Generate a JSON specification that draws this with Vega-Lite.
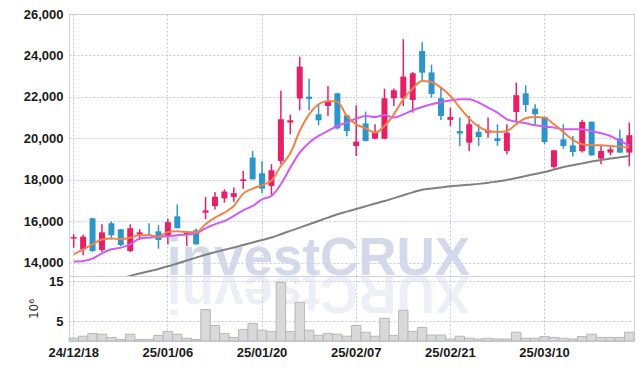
{
  "$schema": "https://vega.github.io/schema/vega-lite/v6.json",
  "background": "white",
  "padding": {"left": 22, "top": 7, "right": 8, "bottom": 8},
  "spacing": 0,
  "bounds": "flush",
  "config": {
    "view": {"stroke": "#cfd0dc"},
    "axis": {
      "labelFont": "Liberation Sans",
      "labelFontWeight": "bold",
      "labelFontSize": 13,
      "labelColor": "#1a1a1a",
      "gridColor": "#c3c6dc",
      "gridDash": [2, 2],
      "domain": false,
      "ticks": false
    }
  },
  "datasets": {
    "p": [
      {"d": "24/12/18", "o": 15160, "h": 15370, "l": 14720, "c": 15230, "v": 0.7, "ma5": 14400, "ma20": 14047, "ma60": 12580},
      {"d": "24/12/19", "o": 14640, "h": 15350, "l": 14350, "c": 15250, "v": 1.2, "ma5": 14640, "ma20": 14079, "ma60": 12710},
      {"d": "24/12/20", "o": 16140, "h": 16150, "l": 14520, "c": 14560, "v": 1.9, "ma5": 14880, "ma20": 14192, "ma60": 12840},
      {"d": "24/12/23", "o": 14610, "h": 15850, "l": 14510, "c": 15460, "v": 1.7, "ma5": 15120, "ma20": 14449, "ma60": 12970},
      {"d": "24/12/24", "o": 15900, "h": 15990, "l": 15120, "c": 15320, "v": 0.9, "ma5": 15160, "ma20": 14642, "ma60": 13100},
      {"d": "24/12/26", "o": 15610, "h": 15620, "l": 14800, "c": 14850, "v": 0.4, "ma5": 15130, "ma20": 14722, "ma60": 13230},
      {"d": "24/12/27", "o": 14560, "h": 15850, "l": 14510, "c": 15660, "v": 1.7, "ma5": 15200, "ma20": 14883, "ma60": 13360},
      {"d": "24/12/30", "o": 15350, "h": 15610, "l": 15090, "c": 15460, "v": 0.4, "ma5": 15320, "ma20": 15157, "ma60": 13470},
      {"d": "25/01/02", "o": 15350, "h": 15900, "l": 15320, "c": 15330, "v": 0.4, "ma5": 15320, "ma20": 15205, "ma60": 13580},
      {"d": "25/01/03", "o": 15510, "h": 15800, "l": 14670, "c": 15090, "v": 1.4, "ma5": 15250, "ma20": 15237, "ma60": 13690},
      {"d": "25/01/06", "o": 15250, "h": 16120, "l": 14880, "c": 15950, "v": 2.4, "ma5": 15480, "ma20": 15286, "ma60": 13820},
      {"d": "25/01/07", "o": 16230, "h": 16810, "l": 15650, "c": 15660, "v": 1.7, "ma5": 15510, "ma20": 15318, "ma60": 13960},
      {"d": "25/01/08", "o": 15350, "h": 15440, "l": 14800, "c": 15430, "v": 0.7, "ma5": 15480, "ma20": 15350, "ma60": 14100},
      {"d": "25/01/09", "o": 15560, "h": 15650, "l": 14870, "c": 14880, "v": 0.4, "ma5": 15470, "ma20": 15414, "ma60": 14240},
      {"d": "25/01/10", "o": 16410, "h": 17170, "l": 16090, "c": 16520, "v": 7.9, "ma5": 15850, "ma20": 15656, "ma60": 14380},
      {"d": "25/01/13", "o": 16730, "h": 17410, "l": 16560, "c": 17180, "v": 3.9, "ma5": 16170, "ma20": 15849, "ma60": 14500},
      {"d": "25/01/14", "o": 17100, "h": 17540, "l": 16890, "c": 17430, "v": 1.9, "ma5": 16410, "ma20": 16010, "ma60": 14620},
      {"d": "25/01/15", "o": 17170, "h": 17620, "l": 16940, "c": 17350, "v": 0.9, "ma5": 16730, "ma20": 16251, "ma60": 14730},
      {"d": "25/01/16", "o": 17940, "h": 18420, "l": 17570, "c": 18020, "v": 2.9, "ma5": 17330, "ma20": 16524, "ma60": 14850},
      {"d": "25/01/17", "o": 19070, "h": 19390, "l": 18000, "c": 18020, "v": 4.4, "ma5": 17570, "ma20": 16733, "ma60": 14970},
      {"d": "25/01/20", "o": 18310, "h": 18900, "l": 17350, "c": 17570, "v": 2.7, "ma5": 17740, "ma20": 17050, "ma60": 15090},
      {"d": "25/01/21", "o": 17700, "h": 18750, "l": 17270, "c": 18460, "v": 2.4, "ma5": 17960, "ma20": 17216, "ma60": 15210},
      {"d": "25/01/22", "o": 18910, "h": 22290, "l": 18750, "c": 20920, "v": 14.7, "ma5": 18665, "ma20": 17780, "ma60": 15370},
      {"d": "25/01/23", "o": 20760, "h": 21140, "l": 20190, "c": 20870, "v": 2.4, "ma5": 19276, "ma20": 18584, "ma60": 15530},
      {"d": "25/01/24", "o": 21920, "h": 23940, "l": 21350, "c": 23460, "v": 9.7, "ma5": 20354, "ma20": 19308, "ma60": 15690},
      {"d": "25/01/31", "o": 22010, "h": 22880, "l": 21350, "c": 21900, "v": 2.7, "ma5": 21158, "ma20": 19791, "ma60": 15850},
      {"d": "25/02/03", "o": 21160, "h": 21640, "l": 20630, "c": 20870, "v": 1.4, "ma5": 21641, "ma20": 20113, "ma60": 16010},
      {"d": "25/02/04", "o": 21560, "h": 22530, "l": 21080, "c": 21800, "v": 1.9, "ma5": 21802, "ma20": 20354, "ma60": 16170},
      {"d": "25/02/05", "o": 22170, "h": 22200, "l": 20430, "c": 20480, "v": 1.7, "ma5": 21770, "ma20": 20595, "ma60": 16330},
      {"d": "25/02/06", "o": 21110, "h": 21120, "l": 20100, "c": 20350, "v": 1.2, "ma5": 21078, "ma20": 20756, "ma60": 16460},
      {"d": "25/02/07", "o": 19630, "h": 21590, "l": 19150, "c": 19840, "v": 3.9, "ma5": 20676, "ma20": 20949, "ma60": 16590},
      {"d": "25/02/10", "o": 20720, "h": 21290, "l": 19850, "c": 19870, "v": 2.2, "ma5": 20483, "ma20": 21078, "ma60": 16720},
      {"d": "25/02/11", "o": 19980, "h": 20680, "l": 19950, "c": 20310, "v": 1.2, "ma5": 20274, "ma20": 21030, "ma60": 16850},
      {"d": "25/02/12", "o": 19980, "h": 22400, "l": 19950, "c": 21930, "v": 5.7, "ma5": 20595, "ma20": 21126, "ma60": 16970},
      {"d": "25/02/13", "o": 21930, "h": 22400, "l": 21560, "c": 22320, "v": 1.4, "ma5": 21158, "ma20": 20998, "ma60": 17110},
      {"d": "25/02/14", "o": 21930, "h": 24780, "l": 21560, "c": 22980, "v": 7.7, "ma5": 21882, "ma20": 21158, "ma60": 17250},
      {"d": "25/02/17", "o": 21850, "h": 23200, "l": 21240, "c": 23140, "v": 2.4, "ma5": 22397, "ma20": 21352, "ma60": 17390},
      {"d": "25/02/18", "o": 24210, "h": 24650, "l": 22770, "c": 23170, "v": 3.4, "ma5": 22767, "ma20": 21513, "ma60": 17520},
      {"d": "25/02/19", "o": 23180, "h": 23550, "l": 21960, "c": 22140, "v": 1.5, "ma5": 22719, "ma20": 21641, "ma60": 17580},
      {"d": "25/02/20", "o": 21930, "h": 22450, "l": 20880, "c": 21080, "v": 1.5, "ma5": 22446, "ma20": 21740, "ma60": 17630},
      {"d": "25/02/21", "o": 20890, "h": 21480, "l": 20600, "c": 21030, "v": 0.5, "ma5": 22043, "ma20": 21820, "ma60": 17680},
      {"d": "25/02/24", "o": 20350, "h": 21000, "l": 19630, "c": 20230, "v": 1.2, "ma5": 21481, "ma20": 21882, "ma60": 17720},
      {"d": "25/02/25", "o": 19790, "h": 21080, "l": 19390, "c": 20680, "v": 0.7, "ma5": 20950, "ma20": 21882, "ma60": 17760},
      {"d": "25/02/26", "o": 20310, "h": 20680, "l": 19630, "c": 20060, "v": 0.5, "ma5": 20564, "ma20": 21722, "ma60": 17800},
      {"d": "25/02/27", "o": 20270, "h": 21000, "l": 20030, "c": 20390, "v": 0.7, "ma5": 20354, "ma20": 21481, "ma60": 17850},
      {"d": "25/02/28", "o": 20000, "h": 20680, "l": 19630, "c": 19870, "v": 0.5, "ma5": 20306, "ma20": 21239, "ma60": 17920},
      {"d": "25/03/04", "o": 19390, "h": 20680, "l": 19230, "c": 20270, "v": 0.5, "ma5": 20354, "ma20": 20918, "ma60": 17990},
      {"d": "25/03/05", "o": 21270, "h": 22690, "l": 20760, "c": 22080, "v": 2.2, "ma5": 20676, "ma20": 20805, "ma60": 18080},
      {"d": "25/03/06", "o": 22170, "h": 22560, "l": 21270, "c": 21610, "v": 0.7, "ma5": 20966, "ma20": 20724, "ma60": 18180},
      {"d": "25/03/07", "o": 21430, "h": 21640, "l": 20630, "c": 21160, "v": 0.7, "ma5": 21030, "ma20": 20628, "ma60": 18280},
      {"d": "25/03/10", "o": 21030, "h": 21050, "l": 19710, "c": 19820, "v": 1.1, "ma5": 20998, "ma20": 20564, "ma60": 18370},
      {"d": "25/03/11", "o": 18620, "h": 19440, "l": 18540, "c": 19420, "v": 0.9, "ma5": 20676, "ma20": 20515, "ma60": 18490},
      {"d": "25/03/12", "o": 19950, "h": 20680, "l": 19500, "c": 19630, "v": 0.7, "ma5": 20306, "ma20": 20435, "ma60": 18610},
      {"d": "25/03/13", "o": 19660, "h": 20110, "l": 19120, "c": 19340, "v": 0.5, "ma5": 19920, "ma20": 20435, "ma60": 18700},
      {"d": "25/03/14", "o": 19390, "h": 20890, "l": 19310, "c": 20790, "v": 1.1, "ma5": 19711, "ma20": 20435, "ma60": 18790},
      {"d": "25/03/17", "o": 20800, "h": 20810, "l": 19150, "c": 19180, "v": 1.7, "ma5": 19662, "ma20": 20354, "ma60": 18880},
      {"d": "25/03/18", "o": 19020, "h": 19630, "l": 18750, "c": 19390, "v": 0.9, "ma5": 19662, "ma20": 20242, "ma60": 18950},
      {"d": "25/03/19", "o": 19310, "h": 19600, "l": 19180, "c": 19470, "v": 0.9, "ma5": 19630, "ma20": 20113, "ma60": 19020},
      {"d": "25/03/20", "o": 19980, "h": 20430, "l": 19300, "c": 19310, "v": 0.9, "ma5": 19598, "ma20": 19872, "ma60": 19080},
      {"d": "25/03/21", "o": 19310, "h": 20760, "l": 18660, "c": 20150, "v": 2.2, "ma5": 19550, "ma20": 19662, "ma60": 19140}
    ]
  },
  "vconcat": [
    {
      "width": 565,
      "height": 262,
      "encoding": {
        "x": {
          "field": "d",
          "type": "ordinal",
          "scale": {"paddingInner": 0, "paddingOuter": 0},
          "axis": {
            "values": ["24/12/18", "25/01/06", "25/01/20", "25/02/07", "25/02/21", "25/03/10"],
            "labels": false,
            "title": null,
            "grid": true,
            "bandPosition": 0.5,
            "minExtent": 0,
            "maxExtent": 0,
            "offset": 0
          }
        }
      },
      "layer": [
        {
          "data": {"values": [{"w": "investCRUX"}]},
          "mark": {"type": "text", "font": "Liberation Sans", "fontWeight": "bold", "fontSize": 53, "color": "#d3d9ea", "align": "center", "baseline": "alphabetic"},
          "encoding": {
            "x": {"datum": "25/02/03"},
            "y": {"datum": 13380, "type": "quantitative"},
            "text": {"field": "w"}
          }
        },
        {
          "data": {"name": "p"},
          "mark": {"type": "rule", "strokeWidth": 1.5, "clip": true},
          "encoding": {
            "y": {
              "field": "l",
              "type": "quantitative",
              "scale": {"domain": [13353, 26000], "zero": false, "nice": false},
              "axis": {"values": [14000, 16000, 18000, 20000, 22000, 24000, 26000], "format": ",d", "title": null, "labelPadding": 6, "grid": true}
            },
            "y2": {"field": "h"},
            "color": {"condition": {"test": "datum.c >= datum.o", "value": "#e61f68"}, "value": "#2c95c9"}
          }
        },
        {
          "data": {"name": "p"},
          "mark": {"type": "bar", "size": 6, "clip": true},
          "encoding": {
            "y": {"field": "o", "type": "quantitative", "axis": {"title": null}},
            "y2": {"field": "c"},
            "color": {"condition": {"test": "datum.c >= datum.o", "value": "#e61f68"}, "value": "#2c95c9"}
          }
        },
        {
          "data": {"name": "p"},
          "mark": {"type": "line", "color": "#808080", "strokeWidth": 2, "clip": true, "interpolate": "monotone"},
          "encoding": {"y": {"field": "ma60", "type": "quantitative", "axis": {"title": null}}}
        },
        {
          "data": {"name": "p"},
          "mark": {"type": "line", "color": "#cf5cf2", "strokeWidth": 2, "clip": true, "interpolate": "monotone"},
          "encoding": {"y": {"field": "ma20", "type": "quantitative", "axis": {"title": null}}}
        },
        {
          "data": {"name": "p"},
          "mark": {"type": "line", "color": "#f08448", "strokeWidth": 2, "clip": true, "interpolate": "monotone"},
          "encoding": {"y": {"field": "ma5", "type": "quantitative", "axis": {"title": null}}}
        }
      ]
    },
    {
      "width": 565,
      "height": 65,
      "encoding": {
        "x": {
          "field": "d",
          "type": "ordinal",
          "scale": {"paddingInner": 0, "paddingOuter": 0},
          "axis": {
            "values": ["24/12/18", "25/01/06", "25/01/20", "25/02/07", "25/02/21", "25/03/10"],
            "title": null,
            "grid": true,
            "bandPosition": 0.5,
            "labelAngle": 0,
            "labelPadding": 5
          }
        }
      },
      "layer": [
        {
          "data": {"values": [{"w": "XURCtsevni"}]},
          "mark": {"type": "text", "font": "Liberation Sans", "fontWeight": "bold", "fontSize": 53, "color": "#d3d9ea", "opacity": 0.4, "angle": 180, "align": "center", "baseline": "alphabetic", "clip": true},
          "encoding": {
            "x": {"datum": "25/02/03"},
            "y": {"datum": 16.3, "type": "quantitative"},
            "text": {"field": "w"}
          }
        },
        {
          "data": {"name": "p"},
          "mark": {"type": "bar", "fill": "#d9d9d9", "stroke": "#b7b7b7", "strokeWidth": 1},
          "encoding": {
            "y": {
              "field": "v",
              "type": "quantitative",
              "scale": {"domain": [0, 16.3], "nice": false},
              "axis": {
                "values": [5, 10, 15],
                "title": "10⁶",
                "titleFont": "DejaVu Sans",
                "titleFontWeight": "normal",
                "titleFontSize": 12,
                "titleColor": "#333333",
                "titlePadding": 8,
                "labelPadding": 6,
                "grid": true
              }
            }
          }
        }
      ]
    }
  ]
}
